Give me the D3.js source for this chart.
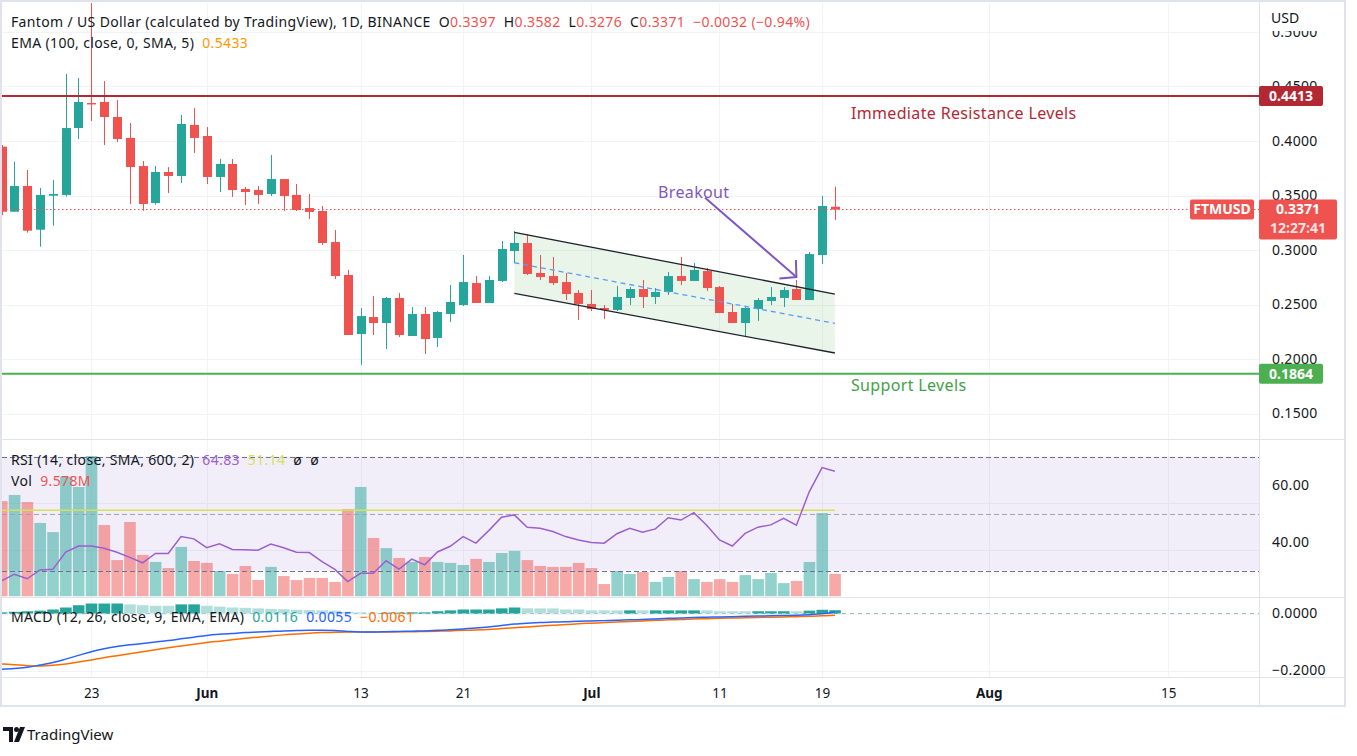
<!DOCTYPE html>
<html><head><meta charset="utf-8">
<script src="https://cdn.jsdelivr.net/npm/d3@7"></script>
<style>
html,body{margin:0;padding:0;background:#fff;}
svg{display:block;font-family:"Noto Sans",sans-serif;}
</style></head><body>
<svg id="c" width="1357" height="756"></svg>
<script>
// ---------------- DATA ----------------
const dates = ["2022-05-16","2022-05-17","2022-05-18","2022-05-19","2022-05-20","2022-05-21","2022-05-22","2022-05-23","2022-05-24","2022-05-25","2022-05-26","2022-05-27","2022-05-28","2022-05-29","2022-05-30","2022-05-31",
"2022-06-01","2022-06-02","2022-06-03","2022-06-04","2022-06-05","2022-06-06","2022-06-07","2022-06-08","2022-06-09","2022-06-10","2022-06-11","2022-06-12","2022-06-13","2022-06-14","2022-06-15","2022-06-16","2022-06-17","2022-06-18","2022-06-19","2022-06-20","2022-06-21","2022-06-22","2022-06-23","2022-06-24","2022-06-25","2022-06-26","2022-06-27","2022-06-28","2022-06-29","2022-06-30",
"2022-07-01","2022-07-02","2022-07-03","2022-07-04","2022-07-05","2022-07-06","2022-07-07","2022-07-08","2022-07-09","2022-07-10","2022-07-11","2022-07-12","2022-07-13","2022-07-14","2022-07-15","2022-07-16","2022-07-17","2022-07-18","2022-07-19","2022-07-20"];
const open  = [.3948,.3351,.3587,.3186,.3498,.3505,.4119,.4349,.4358,.4220,.4028,.3770,.3431,.3716,.3679,.4147,
.4046,.3670,.3789,.3560,.3550,.3514,.3651,.3505,.3385,.3358,.3073,.2771,.2229,.2385,.2330,.2560,.2211,.2413,.2193,.2413,.2495,.2697,.2514,.2716,.2991,.3064,.2789,.2761,.2706,.2606,
.2505,.2468,.2450,.2560,.2642,.2569,.2615,.2761,.2716,.2807,.2660,.2431,.2330,.2459,.2532,.2560,.2642,.2541,.2954,.3397];
const high  = [.3963,.3810,.3734,.3569,.3642,.4615,.4578,.5350,.4550,.4376,.4165,.3817,.3770,.3761,.4239,.4303,
.4128,.3835,.3835,.3578,.3587,.3872,.3651,.3606,.3514,.3404,.3183,.2817,.2468,.2578,.2569,.2606,.2477,.2477,.2440,.2679,.2954,.2761,.2761,.3083,.3174,.3147,.2954,.2936,.2789,.2633,
.2633,.2495,.2670,.2660,.2725,.2651,.2798,.2936,.2881,.2835,.2670,.2505,.2486,.2560,.2660,.2660,.2725,.2982,.3495,.3582];
const low   = [.3320,.3351,.3159,.3030,.3223,.3489,.4018,.4183,.3963,.3990,.3422,.3360,.3416,.3523,.3615,.3890,
.3606,.3532,.3486,.3413,.3422,.3495,.3358,.3358,.3284,.3046,.2734,.2220,.1945,.2220,.2092,.2202,.2211,.2046,.2110,.2340,.2486,.2514,.2514,.2706,.2881,.2771,.2725,.2679,.2541,.2358,
.2440,.2367,.2440,.2495,.2468,.2505,.2587,.2679,.2716,.2624,.2422,.2330,.2202,.2349,.2495,.2477,.2541,.2541,.2872,.3276];
const close = [.3351,.3587,.3177,.3505,.3514,.4119,.4358,.4340,.4220,.4018,.3761,.3422,.3716,.3679,.4156,.4028,
.3670,.3789,.3550,.3532,.3505,.3651,.3495,.3367,.3349,.3064,.2761,.2220,.2394,.2330,.2560,.2220,.2413,.2183,.2431,.2523,.2706,.2514,.2725,.3009,.3064,.2780,.2752,.2697,.2596,.2505,
.2459,.2450,.2569,.2642,.2569,.2615,.2761,.2716,.2817,.2651,.2422,.2330,.2468,.2541,.2569,.2633,.2541,.2963,.3404,.3371];
const volume = [40.6,43.2,40.2,31.3,27.4,50.9,46.6,59.8,30.4,15.5,31.7,17.7,14.7,12.1,21.1,15.1,
14.3,10.9,9.6,13.0,7.0,12.6,8.7,7.0,7.9,7.9,6.2,37.2,46.6,24.9,20.6,16.4,14.7,16.8,14.7,14.3,13.4,16.0,14.7,18.5,19.4,15.5,13.0,12.6,12.6,14.3,
12.1,5.3,10.9,9.6,10.4,6.2,8.3,10.9,7.4,6.2,7.4,6.2,9.1,7.4,10.0,5.7,6.6,14.7,35.5,9.578];
const volumeDir = ["d","u","d","u","u","u","u","u","d","d","d","d","u","d","u","d",
"d","u","d","d","d","u","d","d","d","d","d","d","u","d","u","d","u","d","u","u","u","d","u","u","u","d","d","d","d","d",
"d","d","u","u","d","u","u","d","u","d","d","d","u","u","u","u","d","u","u","d"];
const rsi = [26.4,28.7,27.1,30.2,30.4,36.5,38.6,38.6,37.8,36.4,34.6,32.7,36.0,36.0,41.9,41.1,
38.0,39.4,37.4,37.3,37.1,39.3,38.0,36.4,36.3,33.1,30.4,26.1,29.0,29.0,33.4,30.5,34.0,32.0,36.5,38.5,41.9,39.6,44.0,48.7,49.5,45.2,44.8,43.7,41.9,40.7,
39.8,39.6,42.9,44.8,43.4,44.6,48.5,47.7,50.3,45.9,40.7,38.6,43.0,45.2,46.0,48.3,45.9,57.6,66.1,64.83];
const rsiMA = 51.14;
const macd = [-0.196,-0.193,-0.189,-0.181,-0.172,-0.160,-0.147,-0.134,-0.124,-0.116,-0.110,-0.105,-0.100,-0.095,-0.089,-0.083,
-0.077,-0.073,-0.070,-0.067,-0.065,-0.063,-0.061,-0.060,-0.059,-0.059,-0.060,-0.063,-0.065,-0.065,-0.064,-0.063,-0.062,-0.061,-0.059,-0.057,-0.054,-0.051,-0.047,-0.042,-0.037,-0.034,-0.032,-0.030,-0.029,-0.027,
-0.026,-0.025,-0.024,-0.022,-0.021,-0.019,-0.017,-0.016,-0.014,-0.013,-0.012,-0.011,-0.010,-0.009,-0.008,-0.007,-0.006,-0.004,-0.001,0.0055];
const signal = [-0.177,-0.180,-0.183,-0.184,-0.182,-0.177,-0.170,-0.163,-0.155,-0.148,-0.141,-0.134,-0.127,-0.120,-0.114,-0.108,
-0.102,-0.097,-0.092,-0.087,-0.083,-0.079,-0.075,-0.072,-0.069,-0.067,-0.066,-0.065,-0.065,-0.065,-0.065,-0.064,-0.064,-0.063,-0.062,-0.061,-0.059,-0.058,-0.056,-0.053,-0.050,-0.047,-0.044,-0.041,-0.039,-0.036,
-0.034,-0.032,-0.030,-0.028,-0.026,-0.024,-0.022,-0.021,-0.019,-0.018,-0.017,-0.016,-0.015,-0.014,-0.013,-0.012,-0.011,-0.010,-0.008,-0.0061];
const hist = [0.004,0.006,0.008,0.010,0.014,0.021,0.029,0.035,0.035,0.035,0.032,0.029,0.027,0.027,0.032,0.032,
0.027,0.024,0.021,0.020,0.018,0.016,0.015,0.013,0.012,0.011,0.010,0.006,0.004,0.003,0.003,0.003,0.004,0.004,0.008,0.011,0.014,0.014,0.014,0.018,0.021,0.018,0.018,0.018,0.014,0.014,
0.011,0.011,0.011,0.011,0.011,0.011,0.011,0.011,0.011,0.011,0.008,0.008,0.008,0.008,0.008,0.008,0.008,0.010,0.013,0.0116];
const histDir = ["u","u","u","u","u","u","u","u","u","u","f","f","f","f","u","u",
"f","f","f","f","f","f","f","f","f","f","f","f","f","f","u","u","u","u","u","u","u","u","u","u","u","f","f","f","f","f",
"f","f","f","u","f","u","u","u","u","f","f","f","f","u","u","u","f","u","u","u"];

const priceTicks = [0.15,0.20,0.25,0.30,0.35,0.40,0.45,0.50];
const rsiTicks = [40,60];
const volGrid = [20,40];
const macdTicks = [0,-0.2];
const timeTicks = ["2022-05-23","2022-06-01","2022-06-13","2022-06-21","2022-07-01","2022-07-11","2022-07-19","2022-08-01","2022-08-15"];
const timeTickLabels = ["23","Jun","13","21","Jul","11","19","Aug","15"];
const monthTicks = ["Jun","Jul","Aug"];

const resistance = 0.4413, support = 0.1864, lastPrice = 0.3371;
const channelDates = ["2022-06-25","2022-07-20"];
const channelUpper = [0.3162,0.2596];
const channelLower = [0.2603,0.2055];
const channelMid   = [0.2883,0.2327];
const arrowFrom = {t:"2022-07-09T21:00:00Z", p:0.3480};
const arrowTo   = {t:"2022-07-17T00:00:00Z", p:0.2752};
const breakoutLabel = {t:"2022-07-06T05:00:00Z", p:0.3525, text:"Breakout"};
const resLabel = {t:"2022-07-21T06:00:00Z", p:0.4257, text:"Immediate Resistance Levels"};
const supLabel = {t:"2022-07-21T06:00:00Z", p:0.1761, text:"Support Levels"};

// ---------------- SETUP ----------------
const parse = d3.utcParse("%Y-%m-%d");
const rows = dates.map((d,i)=>({t:parse(d),o:open[i],h:high[i],l:low[i],c:close[i],v:volume[i],vd:volumeDir[i],r:rsi[i],m:macd[i],s:signal[i],hh:hist[i],hd:histDir[i]}));
const UP="#26a69a", DN="#ef5350", TXT="#131722", GRID="#f0f3fa", BORDER="#e0e3eb";
const svg = d3.select("#c");
const PL=2, PR=1259;
const P = {main:[3,438], rsi:[440,596.5], macd:[598,677], time:[678,706]};

const xs = d3.scaleUtc().domain([parse("2022-05-23"),parse("2022-08-15")]).range([91.3,1168.2]);
const ys = d3.scaleLinear().domain([0.15,0.40]).range([413.5,141]);
const yr = d3.scaleLinear().domain([40,60]).range([542,485]);
const yv = d3.scaleLinear().domain([0,40]).range([596.5,502.5]);
const ym = d3.scaleLinear().domain([-0.2,0]).range([670.5,613.5]);
const cx = d => Math.round(xs(d.t));

const defs = svg.append("defs");
for (const [k,[a,b]] of Object.entries(P)) {
  defs.append("clipPath").attr("id","clip-"+k).append("rect").attr("x",PL).attr("y",a).attr("width",PR-PL).attr("height",b-a);
}

svg.append("rect").attr("width",1357).attr("height",756).attr("fill","#fff");

// grid
const gGrid = svg.append("g");
timeTicks.forEach(t=>{
  const x = Math.round(xs(parse(t)))+0.5;
  gGrid.append("line").attr("x1",x).attr("x2",x).attr("y1",P.main[0]).attr("y2",P.macd[1]).attr("stroke",GRID);
});
priceTicks.forEach(p=>{
  const y=Math.round(ys(p))+0.5;
  gGrid.append("line").attr("x1",PL).attr("x2",PR).attr("y1",y).attr("y2",y).attr("stroke",GRID);
});
volGrid.forEach(v=>{
  const y=Math.round(yv(v))+0.5;
  gGrid.append("line").attr("x1",PL).attr("x2",PR).attr("y1",y).attr("y2",y).attr("stroke",GRID);
});
macdTicks.forEach(v=>{
  const y=Math.round(ym(v))+0.5;
  gGrid.append("line").attr("x1",PL).attr("x2",PR).attr("y1",y).attr("y2",y).attr("stroke",GRID);
});

// ---------------- MAIN PANE ----------------
const gMain = svg.append("g").attr("clip-path","url(#clip-main)");
const cx0 = xs(parse(channelDates[0])), cx1 = xs(parse(channelDates[1]));
gMain.append("path").attr("d",`M${cx0},${ys(channelUpper[0])}L${cx1},${ys(channelUpper[1])}L${cx1},${ys(channelLower[1])}L${cx0},${ys(channelLower[0])}Z`)
  .attr("fill","rgba(76,175,80,0.13)");
gMain.selectAll("line.wick").data(rows).join("line").attr("class","wick")
  .attr("x1",d=>cx(d)+0.5).attr("x2",d=>cx(d)+0.5).attr("y1",d=>ys(d.h)).attr("y2",d=>ys(d.l))
  .attr("stroke",d=>d.c>=d.o?UP:DN).attr("stroke-width",1);
gMain.selectAll("rect.body").data(rows).join("rect").attr("class","body")
  .attr("x",d=>cx(d)-4).attr("width",9)
  .attr("y",d=>ys(Math.max(d.o,d.c))).attr("height",d=>Math.max(1.5,Math.abs(ys(d.o)-ys(d.c))))
  .attr("fill",d=>d.c>=d.o?UP:DN);
const chLine = (a,b,color,dash,w)=>gMain.append("line").attr("x1",cx0).attr("x2",cx1).attr("y1",ys(a)).attr("y2",ys(b))
  .attr("stroke",color).attr("stroke-width",w).attr("stroke-dasharray",dash);
chLine(channelUpper[0],channelUpper[1],"#1e222d",null,1.3);
chLine(channelLower[0],channelLower[1],"#1e222d",null,1.3);
chLine(channelMid[0],channelMid[1],"#5b9cf6","5,4",1.3);
const hline=(p,color,w,dash)=>gMain.append("line").attr("x1",PL).attr("x2",PR).attr("y1",ys(p)).attr("y2",ys(p)).attr("stroke",color).attr("stroke-width",w).attr("stroke-dasharray",dash);
hline(lastPrice,DN,1,"1.5,2.5");
hline(resistance,"#b22833",2,null);
hline(support,"#4caf50",2,null);
const ax0=xs(new Date(arrowFrom.t)), ay0=ys(arrowFrom.p), ax1=xs(new Date(arrowTo.t)), ay1=ys(arrowTo.p);
const ARC="#7e57c2";
gMain.append("line").attr("x1",ax0).attr("y1",ay0).attr("x2",ax1).attr("y2",ay1).attr("stroke",ARC).attr("stroke-width",2);
gMain.append("path").attr("d",`M${ax1-0.5},${ay1-17}L${ax1},${ay1}L${ax1-17},${ay1+1.5}`).attr("fill","none").attr("stroke",ARC).attr("stroke-width",2);
const ann=(o,color)=>gMain.append("text").attr("x",xs(new Date(o.t))).attr("y",ys(o.p)).attr("dy","0.35em")
  .attr("fill",color).attr("font-size",16).attr("letter-spacing",0.35).text(o.text);
ann(breakoutLabel,ARC);
ann(resLabel,"#b22833");
ann(supLabel,"#43a047");

// ---------------- RSI + VOLUME PANE ----------------
const gR = svg.append("g").attr("clip-path","url(#clip-rsi)");
gR.append("rect").attr("x",PL).attr("width",PR-PL).attr("y",yr(70)).attr("height",yr(30)-yr(70)).attr("fill","rgba(126,87,194,0.1)");
gR.selectAll("rect.vol").data(rows).join("rect").attr("class","vol")
  .attr("x",d=>xs(d.t)-5.6).attr("width",11.6).attr("y",d=>yv(d.v)).attr("height",d=>yv(0)-yv(d.v))
  .attr("fill",d=>d.vd==="u"?"rgba(38,166,154,0.5)":"rgba(239,83,80,0.5)");
[[70,"#6c6f98"],[30,"#6c6f98"],[50,"#a0a2ae"]].forEach(([v,c])=>{
  gR.append("line").attr("x1",PL).attr("x2",PR).attr("y1",Math.round(yr(v))+0.5).attr("y2",Math.round(yr(v))+0.5)
    .attr("stroke",c).attr("stroke-dasharray","5,3");
});
gR.append("line").attr("x1",PL).attr("x2",xs(rows[rows.length-1].t)).attr("y1",yr(rsiMA)).attr("y2",yr(rsiMA)).attr("stroke","#d4e157").attr("stroke-width",1.5);
gR.append("path").datum(rows).attr("d",d3.line().x(d=>xs(d.t)).y(d=>yr(d.r))).attr("fill","none").attr("stroke","#9c5fd0").attr("stroke-width",1.5);

// ---------------- MACD PANE ----------------
const gM = svg.append("g").attr("clip-path","url(#clip-macd)");
gM.append("line").attr("x1",PL).attr("x2",PR).attr("y1",ym(0)).attr("y2",ym(0)).attr("stroke","#9ab8c0").attr("stroke-dasharray","4,4");
gM.selectAll("rect.h").data(rows).join("rect").attr("class","h")
  .attr("x",d=>xs(d.t)-5.6).attr("width",11.6)
  .attr("y",d=>Math.min(ym(d.hh),ym(0))).attr("height",d=>Math.abs(ym(d.hh)-ym(0)))
  .attr("fill",d=>d.hd==="u"?"#26a69a":"#b2dfdb");
gM.append("path").datum(rows).attr("d",d3.line().curve(d3.curveMonotoneX).x(d=>xs(d.t)).y(d=>ym(d.s))).attr("fill","none").attr("stroke","#ff6d00").attr("stroke-width",1.5);
gM.append("path").datum(rows).attr("d",d3.line().curve(d3.curveMonotoneX).x(d=>xs(d.t)).y(d=>ym(d.m))).attr("fill","none").attr("stroke","#2962ff").attr("stroke-width",1.5);

// ---------------- SEPARATORS / FRAME ----------------
svg.append("rect").attr("x",PR).attr("y",2).attr("width",1345-PR).attr("height",704).attr("fill","#fff");
const sep=(y)=>svg.append("line").attr("x1",PL).attr("x2",1345).attr("y1",y).attr("y2",y).attr("stroke",BORDER);
sep(439.5); sep(597.5); sep(677.5);
svg.append("line").attr("x1",PR+0.5).attr("x2",PR+0.5).attr("y1",2).attr("y2",706).attr("stroke",BORDER);
svg.append("rect").attr("x",1).attr("y",1).attr("width",1344).attr("height",705).attr("fill","none").attr("stroke",BORDER).attr("stroke-width",2);

// ---------------- AXES ----------------
const fs=13.5;
const axP = svg.append("g").attr("transform",`translate(${PR},0)`)
  .call(d3.axisRight(ys).tickValues(priceTicks).tickSize(0).tickPadding(13).tickFormat(d3.format(".4f")));
const axR = svg.append("g").attr("transform",`translate(${PR},0)`)
  .call(d3.axisRight(yr).tickValues(rsiTicks).tickSize(0).tickPadding(13).tickFormat(d3.format(".2f")));
const axM = svg.append("g").attr("transform",`translate(${PR},0)`)
  .call(d3.axisRight(ym).tickValues(macdTicks).tickSize(0).tickPadding(13).tickFormat(d=>d3.format(".4f")(d).replace("-","\u2212")));
const axT = svg.append("g").attr("transform",`translate(0,${P.time[0]})`)
  .call(d3.axisBottom(xs).tickValues(timeTicks.map(parse)).tickSize(0).tickPadding(10).tickFormat((d,i)=>timeTickLabels[i]));
[axP,axR,axM].forEach(a=>{a.select(".domain").remove();a.selectAll("text").attr("fill",TXT).attr("font-size",14).attr("letter-spacing",0.3).attr("font-family","Noto Sans");});
axT.select(".domain").remove();
axT.selectAll("text").attr("fill",TXT).attr("font-size",fs).attr("font-family","Noto Sans")
  .attr("font-weight",(d,i)=>monthTicks.includes(timeTickLabels[i])?"bold":null);
svg.append("rect").attr("x",PR+1).attr("y",2).attr("width",84).attr("height",29).attr("fill","#fff");
svg.append("text").attr("x",1271).attr("y",18).attr("dy","0.35em").attr("font-size",14).attr("fill",TXT).text("USD");

function badge(x,yc,w,h,fill,lines){
  svg.append("rect").attr("x",x).attr("y",yc-10).attr("width",w).attr("height",h).attr("rx",2).attr("fill",fill);
  lines.forEach((l,i)=>svg.append("text").attr("x",x+w/2).attr("y",yc+i*19).attr("dy","0.35em").attr("text-anchor","middle")
    .attr("font-size",14).attr("font-weight","bold").attr("fill",i?"rgba(255,255,255,0.85)":"#fff").text(l));
}
badge(PR,ys(resistance),64,20,"#b22833",[d3.format(".4f")(resistance)]);
badge(PR,ys(support),64,20,"#4caf50",[d3.format(".4f")(support)]);
badge(PR,ys(lastPrice),78,40,DN,[d3.format(".4f")(lastPrice),"12:27:41"]);
badge(1190,ys(lastPrice),64,20,DN,["FTMUSD"]);

// ---------------- LEGENDS ----------------
function legend(x,y,parts){
  const t=svg.append("text").attr("x",x).attr("y",y).attr("dy","0.35em").attr("font-size",14).attr("letter-spacing",0.35).attr("fill",TXT).attr("xml:space","preserve");
  parts.forEach(([s,c])=>t.append("tspan").attr("fill",c||TXT).text(s));
}
legend(11,22,[["Fantom / US Dollar (calculated by TradingView), 1D, BINANCE  O"],["0.3397",DN],["  H"],["0.3582",DN],["  L"],["0.3276",DN],["  C"],["0.3371",DN],["  \u22120.0032 (\u22120.94%)",DN]]);
legend(11,43,[["EMA (100, close, 0, SMA, 5)  "],["0.5433","#ff9800"]]);
legend(11,460,[["RSI (14, close, SMA, 600, 2)  "],["64.83","#9c5fd0"],["  "],["51.14","#d4e157"],["  \u00f8  \u00f8"]]);
legend(11,481,[["Vol  "],["9.578M",DN]]);
legend(11,617,[["MACD (12, 26, close, 9, EMA, EMA)  "],["0.0116","#26a69a"],["  "],["0.0055","#2962ff"],["  "],["\u22120.0061","#ff6d00"]]);

// ---------------- TradingView logo ----------------
const lg = svg.append("g").attr("fill",TXT);
lg.append("path").attr("d","M3,727H13V742H9V731H3Z");
lg.append("circle").attr("cx",16.5).attr("cy",729.5).attr("r",2.5);
lg.append("path").attr("d","M20,727H25L19,742H14Z");
svg.append("text").attr("x",27).attr("y",735).attr("dy","0.35em").attr("font-size",15).attr("fill",TXT).text("TradingView");
</script>
</body></html>
